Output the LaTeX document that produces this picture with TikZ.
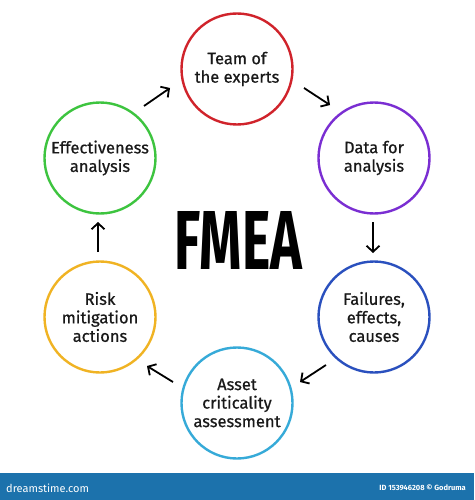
\documentclass[tikz,border=0pt]{standalone}
\usepackage{fontspec}
\setmainfont{Fira Sans}
\newfontfamily\labelfont{Fira Sans}[FakeBold=0.7]
\usetikzlibrary{arrows.meta}
\definecolor{cred}{HTML}{D0232B}
\definecolor{cpurple}{HTML}{7A2ED2}
\definecolor{cblue}{HTML}{2A50BE}
\definecolor{ccyan}{HTML}{36AAD8}
\definecolor{cyellow}{HTML}{F0B323}
\definecolor{cgreen}{HTML}{3DC43F}
\definecolor{barblue}{HTML}{1C72AC}
\tikzset{
  stepcircle/.style={circle, draw=#1, line width=2.4pt, minimum size=111pt, inner sep=0pt,
    align=center, font=\labelfont\fontsize{16.5}{18.5}\selectfont, text=black!90},
  flowarrow/.style={line width=1.8pt, -{Straight Barb[length=6pt,width=13pt,line width=1.8pt]}},
}
\begin{document}
\begin{tikzpicture}[x=1pt,y=-1pt]
\useasboundingbox (0,0) rectangle (474,500);
\fill[white] (0,0) rectangle (474,500);
% bottom bar
\fill[barblue] (0,473) rectangle (474,500);
\node[anchor=west, text=white, font=\fontsize{11}{11}\selectfont, inner sep=0pt] (logo) at (6,488) {dreamstime.com};
\node[anchor=east, text=white, font=\fontsize{7.5}{7.5}\selectfont\bfseries, inner sep=0pt] (credit) at (466,488) {ID 153946208 © Godruma};
% circles
\node[stepcircle=cred] (team) at (237,69) {Team of\\the experts};
\node[stepcircle=cpurple] (data) at (374,158) {Data for\\analysis};
\node[stepcircle=cblue] (fail) at (374,317) {Failures,\\effects,\\causes};
\node[stepcircle=ccyan] (asset) at (237,403) {Asset\\criticality\\assessment};
\node[stepcircle=cyellow] (risk) at (100,317) {Risk\\mitigation\\actions};
\node[stepcircle=cgreen] (eff) at (100,158) {Effectiveness\\analysis};
% title
\node[inner sep=0pt] (fmea) at (238.5,240) {\resizebox{127pt}{58pt}{\bfseries FMEA}};
% arrow end points
\coordinate (a1s) at (144,106); \coordinate (a1e) at (170,88);
\coordinate (a2s) at (304,88);  \coordinate (a2e) at (330,105);
\coordinate (a3s) at (373,222); \coordinate (a3e) at (373,253);
\coordinate (a4s) at (326,365); \coordinate (a4e) at (300,382);
\coordinate (a5s) at (173,382); \coordinate (a5e) at (147,366);
\coordinate (a6s) at (98,252);  \coordinate (a6e) at (98,222);
\draw[flowarrow] (a1s) -- (a1e);
\draw[flowarrow] (a2s) -- (a2e);
\draw[flowarrow] (a3s) -- (a3e);
\draw[flowarrow] (a4s) -- (a4e);
\draw[flowarrow] (a5s) -- (a5e);
\draw[flowarrow] (a6s) -- (a6e);
\end{tikzpicture}
\end{document}
